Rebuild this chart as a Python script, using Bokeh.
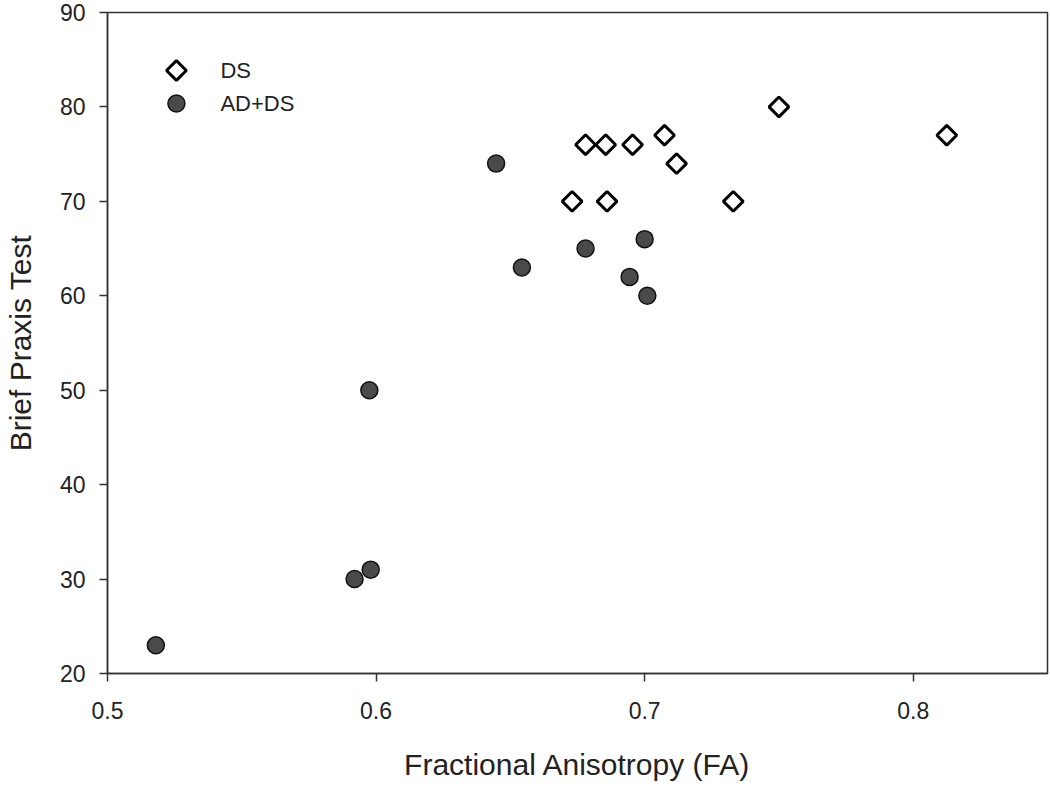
import math
from bokeh.plotting import figure
from bokeh.models import Range1d, FixedTicker
from bokeh.embed import file_html
from bokeh.resources import INLINE
from bokeh.core.properties import value

# Data
ds_fa = [0.673, 0.678, 0.6855, 0.686, 0.6955, 0.7074, 0.7119, 0.733, 0.750, 0.8125]
ds_bpt = [70, 76, 76, 70, 76, 77, 74, 70, 80, 77]
adds_fa = [0.518, 0.592, 0.598, 0.5975, 0.6447, 0.6543, 0.678, 0.6944, 0.700, 0.701]
adds_bpt = [23, 30, 31, 50, 74, 63, 65, 62, 66, 60]
x_ticks = [0.5, 0.6, 0.7, 0.8]
y_ticks = [20, 30, 40, 50, 60, 70, 80, 90]
legend_labels = ["DS", "AD+DS"]

FONT = "Liberation Sans"
W, H = 1050, 787
BL, BT, BR, BB = 106, 12, 3, 114
FW, FH = W - BL - BR, H - BT - BB

p = figure(width=W, height=H, output_backend="svg", toolbar_location=None,
           x_range=Range1d(0.5, 0.85), y_range=Range1d(20, 90),
           min_border_left=BL, min_border_top=BT, min_border_right=BR, min_border_bottom=BB)
p.background_fill_color = "white"
p.border_fill_color = "white"
p.grid.visible = False
p.outline_line_color = "#333333"
p.outline_line_width = 1.5

for ax in (p.xaxis[0], p.yaxis[0]):
    ax.axis_line_color = "#333333"
    ax.axis_line_width = 1.5
    ax.major_tick_line_color = "#333333"
    ax.major_tick_line_width = 1.5
    ax.major_tick_out = 8
    ax.major_tick_in = 0
    ax.minor_tick_out = 0
    ax.minor_tick_in = 0
    ax.major_label_text_font = FONT
    ax.major_label_text_font_size = "23px"
    ax.major_label_text_color = "#222222"
    ax.axis_label_text_font = FONT
    ax.axis_label_text_font_size = "30px"
    ax.axis_label_text_font_style = "normal"
    ax.axis_label_text_color = "#222222"

p.xaxis.ticker = FixedTicker(ticks=x_ticks)
p.yaxis.ticker = FixedTicker(ticks=y_ticks)
p.xaxis.major_label_overrides = {t: f"{t:.1f}" for t in x_ticks}
p.xaxis.axis_label = "Fractional Anisotropy (FA)"
p.yaxis.axis_label = "Brief Praxis Test"
p.xaxis.major_label_standoff = 20
p.xaxis.axis_label_standoff = 26
p.yaxis.major_label_standoff = 14
p.yaxis.axis_label_standoff = 20

DS_STYLE = dict(marker="square", size=14, angle=math.pi / 4,
                fill_color="white", line_color="black", line_width=3)
AD_STYLE = dict(marker="circle", size=17,
                fill_color="#4a4a4a", line_color="#111111", line_width=1.5)

p.scatter(ds_fa, ds_bpt, **DS_STYLE)
p.scatter(adds_fa, adds_bpt, **AD_STYLE)

# Hand-drawn legend in frame pixel units (diamond markers need rotation)
p.extra_x_ranges = {"px": Range1d(0, FW)}
p.extra_y_ranges = {"py": Range1d(FH, 0)}
LEG_X, LEG_Y0, LEG_DY, LEG_TX = 69, 58, 33, 113
p.scatter([LEG_X], [LEG_Y0], x_range_name="px", y_range_name="py", **DS_STYLE)
p.scatter([LEG_X], [LEG_Y0 + LEG_DY], x_range_name="px", y_range_name="py", **AD_STYLE)
p.text([LEG_TX, LEG_TX], [LEG_Y0, LEG_Y0 + LEG_DY], text=legend_labels,
       x_range_name="px", y_range_name="py",
       text_font=value(FONT), text_font_size="22px", text_color="#222222",
       text_baseline="middle", text_align="left")

open("out.html", "w").write(file_html(p, INLINE))
